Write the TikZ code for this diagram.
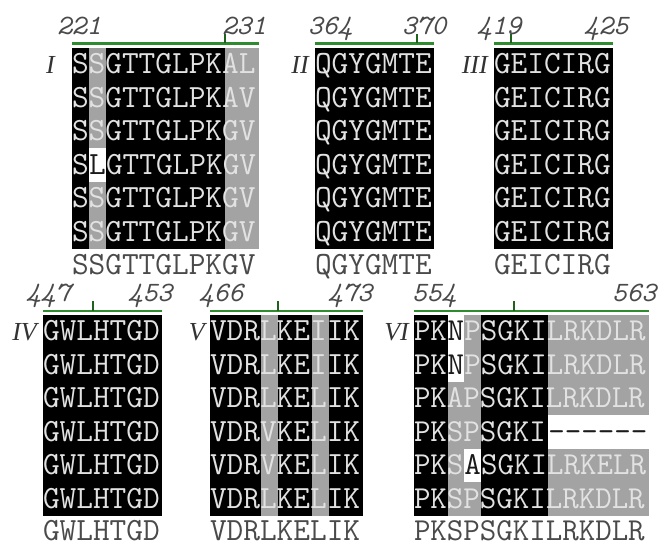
\documentclass[tikz,border=0pt]{standalone}
\usepackage{fontspec}
\newfontfamily\romfont{Liberation Serif}
\definecolor{cellgray}{HTML}{A3A3A3}
\definecolor{seqlight}{HTML}{E2E2E2}
\definecolor{seqdark}{HTML}{1A1A1A}
\definecolor{consgray}{HTML}{4A4A4A}
\definecolor{numgray}{HTML}{4A4A4A}
\definecolor{romgray}{HTML}{333333}
\definecolor{bargreen}{HTML}{2E8B2E}
\begin{document}
\begin{tikzpicture}[x=1pt,y=-1pt,
  seq/.style={font=\ttfamily\fontsize{32.4}{36}\selectfont, text=seqlight, inner sep=0pt, outer sep=0pt, anchor=base west},
  seqd/.style={seq, text=seqdark},
  seqs/.style={seq, font=\ttfamily\fontsize{32}{36}\selectfont},
  seqsd/.style={seqs, text=seqdark},
  cons/.style={seq, text=consgray},
  conss/.style={seqs, text=consgray},
  num/.style={font=\ttfamily\itshape\fontsize{28}{30}\selectfont, text=numgray, inner sep=0pt, anchor=base west},
  rom/.style={font=\romfont\itshape\fontsize{26}{28}\selectfont, text=romgray, inner sep=0pt, anchor=base east},
  bar/.style={draw=bargreen, line width=2.5pt},
  tickmark/.style={draw=bargreen!70!black, line width=1.2pt}]
\useasboundingbox (0,0) rectangle (665,545);

% ---------------- Block I ----------------
\fill[black] (72,48) rectangle ++(187,201);
\fill[cellgray] (89,48) rectangle ++(17,201);
\fill[cellgray] (225,48) rectangle ++(34,201);
\fill[white] (89,148.5) rectangle ++(17,33.5);
\node[seq] (I-1) at (72,74) {SSGTTGLPKAL};
\node[seq] (I-2) at (72,107.5) {SSGTTGLPKAV};
\node[seq] (I-3) at (72,141) {SSGTTGLPKGV};
\node[seq] (I-4) at (72,174.5) {S};
\node[seqd] (I-4x) at (89,174.5) {L};
\node[seq] (I-4y) at (106,174.5) {GTTGLPKGV};
\node[seq] (I-5) at (72,208) {SSGTTGLPKGV};
\node[seq] (I-6) at (72,241.5) {SSGTTGLPKGV};
\node[cons] (I-c) at (72,275) {SSGTTGLPKGV};
\node[rom] (I-r) at (55,74) {I};
\draw[bar] (72,43.5) -- (259,43.5);
\draw[tickmark] (225,43.5) -- (225,34);
\node[num] (I-a) at (57,35) {221};
\node[num] (I-b) at (222,35) {231};

% ---------------- Block II ----------------
\fill[black] (315,48) rectangle ++(119,201);
\node[seq] (II-1) at (315,74) {QGYGMTE};
\node[seq] (II-2) at (315,107.5) {QGYGMTE};
\node[seq] (II-3) at (315,141) {QGYGMTE};
\node[seq] (II-4) at (315,174.5) {QGYGMTE};
\node[seq] (II-5) at (315,208) {QGYGMTE};
\node[seq] (II-6) at (315,241.5) {QGYGMTE};
\node[cons] (II-c) at (315,275) {QGYGMTE};
\node[rom] (II-r) at (309,74) {II};
\draw[bar] (315,43.5) -- (434,43.5);
\draw[tickmark] (417,43.5) -- (417,34);
\node[num] (II-a) at (308,35) {364};
\node[num] (II-b) at (402,35) {370};

% ---------------- Block III ----------------
\fill[black] (494,48) rectangle ++(119,201);
\node[seq] (III-1) at (494,74) {GEICIRG};
\node[seq] (III-2) at (494,107.5) {GEICIRG};
\node[seq] (III-3) at (494,141) {GEICIRG};
\node[seq] (III-4) at (494,174.5) {GEICIRG};
\node[seq] (III-5) at (494,208) {GEICIRG};
\node[seq] (III-6) at (494,241.5) {GEICIRG};
\node[cons] (III-c) at (494,275) {GEICIRG};
\node[rom] (III-r) at (488,74) {III};
\draw[bar] (494,43.5) -- (613,43.5);
\draw[tickmark] (511,43.5) -- (511,34);
\node[num] (III-a) at (477,35) {419};
\node[num] (III-b) at (584,35) {425};

% ---------------- Block IV ----------------
\fill[black] (43,315) rectangle ++(119,201);
\node[seq] (IV-1) at (43,341) {GWLHTGD};
\node[seq] (IV-2) at (43,374.5) {GWLHTGD};
\node[seq] (IV-3) at (43,408) {GWLHTGD};
\node[seq] (IV-4) at (43,441.5) {GWLHTGD};
\node[seq] (IV-5) at (43,475) {GWLHTGD};
\node[seq] (IV-6) at (43,508.5) {GWLHTGD};
\node[cons] (IV-c) at (43,541) {GWLHTGD};
\node[rom] (IV-r) at (37,341) {IV};
\draw[bar] (43,311) -- (162,311);
\draw[tickmark] (93,311) -- (93,301.5);
\node[num] (IV-a) at (26,302) {447};
\node[num] (IV-b) at (128,302) {453};

% ---------------- Block V ----------------
\fill[black] (210,315) rectangle ++(153,201);
\fill[cellgray] (261,315) rectangle ++(17,201);
\fill[cellgray] (312,315) rectangle ++(17,201);
\node[seq] (V-1) at (210,341) {VDRLKEIIK};
\node[seq] (V-2) at (210,374.5) {VDRLKEIIK};
\node[seq] (V-3) at (210,408) {VDRLKELIK};
\node[seq] (V-4) at (210,441.5) {VDRVKELIK};
\node[seq] (V-5) at (210,475) {VDRVKELIK};
\node[seq] (V-6) at (210,508.5) {VDRLKELIK};
\node[cons] (V-c) at (210,541) {VDRLKELIK};
\node[rom] (V-r) at (205,341) {V};
\draw[bar] (210,311) -- (363,311);
\draw[tickmark] (278,311) -- (278,301.5);
\node[num] (V-a) at (199,302) {466};
\node[num] (V-b) at (328,302) {473};

% ---------------- Block VI ----------------
\fill[black] (414,315) rectangle ++(235.2,201);
\fill[cellgray] (447.6,315) rectangle ++(33.6,201);
\fill[cellgray] (548.4,315) rectangle ++(100.8,201);
\fill[white] (447.6,315) rectangle ++(16.8,67);
\fill[white] (548.4,415.5) rectangle ++(100.8,33.5);
\fill[white] (464.4,449) rectangle ++(16.8,33.5);
\node[seqs] (VI-1) at (414,341) {PK};
\node[seqsd] (VI-1x) at (447.6,341) {N};
\node[seqs] (VI-1y) at (464.4,341) {PSGKILRKDLR};
\node[seqs] (VI-2) at (414,374.5) {PK};
\node[seqsd] (VI-2x) at (447.6,374.5) {N};
\node[seqs] (VI-2y) at (464.4,374.5) {PSGKILRKDLR};
\node[seqs] (VI-3) at (414,408) {PKAPSGKILRKDLR};
\node[seqs] (VI-4) at (414,441.5) {PKSPSGKI};
\node[seqsd] (VI-4x) at (548.4,441.5) {\mbox{-}\mbox{-}\mbox{-}\mbox{-}\mbox{-}\mbox{-}};
\node[seqs] (VI-5) at (414,475) {PKS};
\node[seqsd] (VI-5x) at (464.4,475) {A};
\node[seqs] (VI-5y) at (481.2,475) {SGKILRKELR};
\node[seqs] (VI-6) at (414,508.5) {PKSPSGKILRKDLR};
\node[conss] (VI-c) at (414,541) {PKSPSGKILRKDLR};
\node[rom] (VI-r) at (409,341) {VI};
\draw[bar] (414,311) -- (649.2,311);
\draw[tickmark] (514,311) -- (514,301.5);
\node[num] (VI-a) at (412,302) {554};
\node[num] (VI-b) at (612,302) {563};
\end{tikzpicture}
\end{document}
